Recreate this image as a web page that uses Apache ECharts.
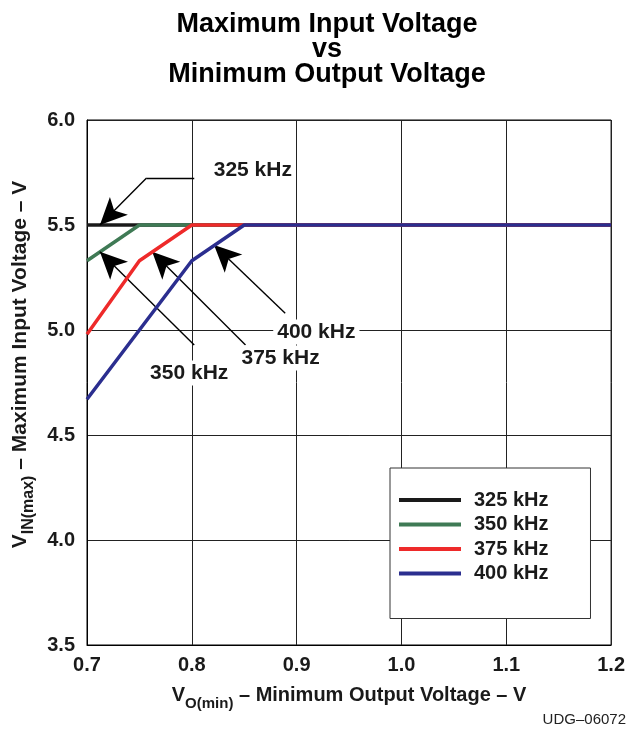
<!DOCTYPE html>
<html><head><meta charset="utf-8">
<script src="https://cdn.jsdelivr.net/npm/echarts@6/dist/echarts.min.js"></script>
<style>html,body{margin:0;padding:0;background:#fff}#c{width:628px;height:732px}</style>
</head><body><div id="c"></div>
<script>
const seriesNames = ['325 kHz', '350 kHz', '375 kHz', '400 kHz'];
const seriesColors = ['#1a1a1a', '#3f7a55', '#ee2a2a', '#2b2e8f'];
const s325 = [[0.7, 5.5], [1.2, 5.5]];
const s350 = [[0.7, 5.33], [0.75, 5.5], [1.2, 5.5]];
const s375 = [[0.7, 4.98], [0.75, 5.33], [0.8, 5.5], [1.2, 5.5]];
const s400 = [[0.7, 4.67], [0.8, 5.33], [0.85, 5.5], [1.2, 5.5]];
const xTicks = [0.7, 0.8, 0.9, 1.0, 1.1, 1.2];
const yTicks = [3.5, 4.0, 4.5, 5.0, 5.5, 6.0];
// annotation leader lines [from, to] in data coords, label positions
const annoLines = [
  {from: [0.8023, 5.724], to: [0.7568, 5.724], arrow: false},
  {from: [0.7568, 5.724], to: [0.7123, 5.50], arrow: true},
  {from: [0.8023, 4.929], to: [0.7123, 5.373], arrow: true},
  {from: [0.8512, 4.929], to: [0.7622, 5.373], arrow: true},
  {from: [0.8891, 5.080], to: [0.8212, 5.405], arrow: true}
];
const annoLabels = [
  {text: '325 kHz', at: [0.8582, 5.762]},
  {text: '350 kHz', at: [0.7975, 4.795]},
  {text: '375 kHz', at: [0.8847, 4.867]},
  {text: '400 kHz', at: [0.9188, 4.990]}
];
const allData = [s325, s350, s375, s400];

const FONT = 'Liberation Sans, Arial, sans-serif';
const TXT = '#1a1a1a';
const chart = echarts.init(document.getElementById('c'));
const series = allData.map((d, i) => ({
  name: seriesNames[i], type: 'line', data: d, showSymbol: false, symbol: 'none',
  lineStyle: {color: seriesColors[i], width: 3.5}, itemStyle: {color: seriesColors[i]},
  z: 3 + i, animation: false
}));
series.push({
  name: 'anno', type: 'line', data: [], silent: true, z: 10,
  markLine: {
    silent: true, animation: false,
    lineStyle: {color: '#000', width: 1.4, type: 'solid'},
    label: {show: false},
    data: annoLines.map(a => [
      {coord: a.from, symbol: 'none'},
      {coord: a.to, symbol: a.arrow ? 'arrow' : 'none', symbolSize: [19, 27]}
    ])
  }
});
const mkRich = (fs) => ({
  v: {fontFamily: FONT, fontWeight: 'bold', fontSize: fs, color: TXT, verticalAlign: 'bottom', lineHeight: 24},
  s: {fontFamily: FONT, fontWeight: 'bold', fontSize: Math.round(fs * 0.75), color: TXT, verticalAlign: 'bottom', lineHeight: 24, padding: [0, 0, -6, 0]}
});
chart.setOption({
  animation: false,
  textStyle: {fontFamily: FONT},
  title: {
    text: 'Maximum Input Voltage\nvs\nMinimum Output Voltage',
    left: 322, top: 7, textAlign: 'center',
    textStyle: {fontFamily: FONT, fontWeight: 'bold', fontSize: 27, lineHeight: 25, color: '#000'}
  },
  grid: {left: 87, top: 120, width: 528, height: 525, show: true, borderColor: '#000', borderWidth: 1},
  legend: {
    data: seriesNames, orient: 'vertical', left: 390, top: 468,
    padding: [22, 42, 35, 9], itemGap: 4.5, itemWidth: 62, itemHeight: 20,
    backgroundColor: '#fff', borderColor: '#333', borderWidth: 1,
    textStyle: {fontFamily: FONT, fontWeight: 'bold', fontSize: 20, lineHeight: 20, color: TXT, padding: [0, 0, 0, 8]},
    icon: 'path://M0,0 L62,0 L62,4 L0,4 Z',
    itemStyle: {borderWidth: 0}
  },
  xAxis: {
    type: 'value', min: 0.7, max: 1.2, interval: 0.1,
    axisLine: {show: true, lineStyle: {color: '#000'}},
    axisTick: {show: false},
    splitLine: {show: true, lineStyle: {color: '#222', width: 1}},
    axisLabel: {fontFamily: FONT, fontWeight: 'bold', fontSize: 20, color: TXT, margin: 10,
      formatter: v => v.toFixed(1)},
    name: '{v|V}{s|O(min)}{v| – Minimum Output Voltage – V}', nameLocation: 'middle', nameGap: 36,
    nameTextStyle: {rich: mkRich(20)}
  },
  yAxis: {
    type: 'value', min: 3.5, max: 6.0, interval: 0.5,
    axisLine: {show: true, lineStyle: {color: '#000'}},
    axisTick: {show: false},
    splitLine: {show: true, lineStyle: {color: '#222', width: 1}},
    axisLabel: {fontFamily: FONT, fontWeight: 'bold', fontSize: 20, color: TXT, margin: 12,
      formatter: v => v.toFixed(1)},
    name: '{v|V}{s|IN(max)}{v| – Maximum Input Voltage – V}', nameLocation: 'middle', nameGap: 54, nameRotate: 90,
    nameTextStyle: {rich: mkRich(21), padding: [0, 0, 0, 36]}
  },
  series: series
});
const graphics = annoLabels.map(l => {
  const p = chart.convertToPixel({gridIndex: 0}, l.at);
  return {
    type: 'text', x: p[0], y: p[1], z: 100,
    style: {text: l.text, fontFamily: FONT, fontWeight: 'bold', fontSize: 21, fill: TXT,
      align: 'center', verticalAlign: 'middle', backgroundColor: '#fff', padding: [2, 4]}
  };
});
graphics.push({
  type: 'text', right: 2, top: 712, z: 100,
  style: {text: 'UDG–06072', fontFamily: FONT, fontSize: 15, fill: '#222'}
});
chart.setOption({graphic: graphics});
</script></body></html>
